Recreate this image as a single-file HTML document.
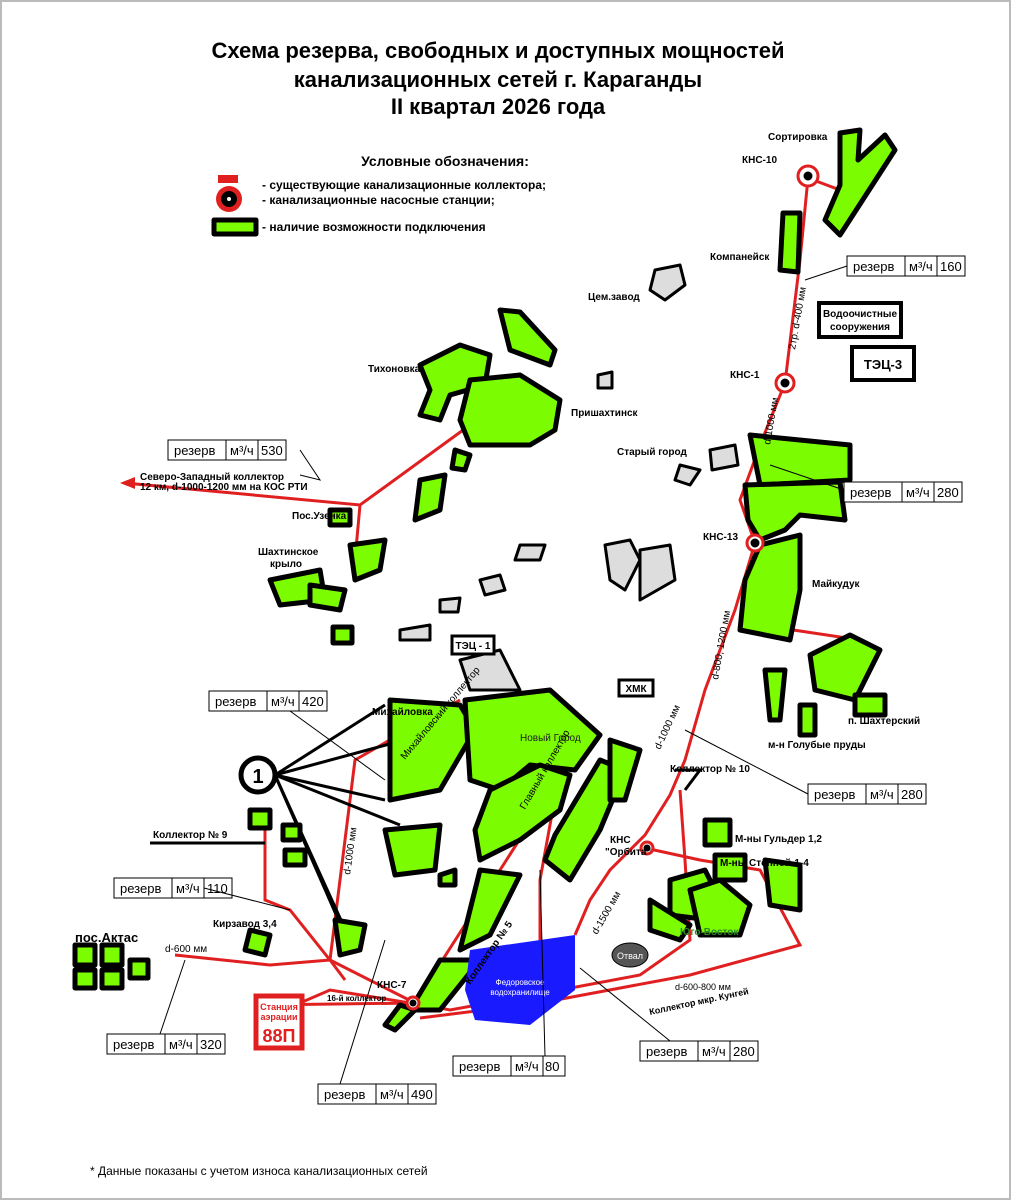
<!DOCTYPE html>
<html><head><meta charset="utf-8"><style>
body{margin:0;background:#fff}
svg{display:block;font-family:"Liberation Sans",sans-serif}
.g{fill:#7CFC00;stroke:#000;stroke-width:5;stroke-linejoin:round}
.gr{fill:#ddd;stroke:#000;stroke-width:3;stroke-linejoin:round}
.r{stroke:#e02020;stroke-width:3;fill:none}
.k{stroke:#000;stroke-width:3;fill:none}
.t{font-size:10px;font-weight:bold}
.bx rect{fill:#fff;stroke:#000;stroke-width:1}
.bx text{font-size:13px}
</style></head><body>
<svg width="1011" height="1200" viewBox="0 0 1011 1200">
<rect x="1" y="1" width="1009" height="1198" fill="#fff" stroke="#bbb" stroke-width="2"/>
<g font-weight="bold" font-size="22" text-anchor="middle">
<text x="498" y="58">Схема резерва, свободных и доступных мощностей</text>
<text x="498" y="87">канализационных сетей г. Караганды</text>
<text x="498" y="114">II квартал 2026 года</text>
</g>
<text x="445" y="166" font-size="14" font-weight="bold" text-anchor="middle">Условные обозначения:</text>
<rect x="218" y="175" width="20" height="8" fill="#e02020"/>
<circle cx="229" cy="199" r="13" fill="#e02020"/><circle cx="229" cy="199" r="8" fill="#000"/><circle cx="229" cy="199" r="2" fill="#fff"/>
<text x="262" y="189" font-size="12" font-weight="bold">- существующие канализационные коллектора;</text>
<text x="262" y="204" font-size="12" font-weight="bold">- канализационные насосные станции;</text>
<rect x="214" y="220" width="42" height="14" class="g" stroke-width="3"/>
<text x="262" y="231" font-size="12" font-weight="bold">- наличие возможности подключения</text>

<!-- red lines -->
<g class="r">
<polyline points="808,178 800,260 785,383 762,440 755,543 735,610 705,690 685,760 670,795 645,835 610,870 590,900 575,935"/>
<line x1="808" y1="178" x2="840" y2="190"/>
<polyline points="762,440 740,500 755,543"/>
<polyline points="760,625 860,640"/>
<polyline points="680,790 685,860 690,940 640,975 560,990 450,1010 415,1003 260,1005"/>
<polyline points="645,848 700,860 760,870 800,945 690,975 540,1003 420,1018"/>
<polyline points="415,1003 580,745"/>
<polyline points="415,1003 330,960 290,910 265,900 265,820"/>
<polyline points="330,960 355,760 460,700"/>
<polyline points="330,960 345,980"/>
<polyline points="175,955 270,965 330,960"/>
<polyline points="540,1003 540,880 560,770"/>
<polyline points="410,1003 330,990 300,1003"/>
<polyline points="125,483 360,505 470,425"/>
<polyline points="360,505 355,560"/>
</g>
<polygon points="120,483 135,477 135,489" fill="#e02020"/>
<text x="140" y="480" class="t" font-size="8">Северо-Западный коллектор</text>
<text x="140" y="490" class="t" font-size="8">12 км, d-1000-1200 мм на КОС РТИ</text>

<!-- black lines to circle 1 -->
<g class="k">
<line x1="275" y1="775" x2="385" y2="705"/><line x1="275" y1="775" x2="460" y2="725"/>
<line x1="275" y1="775" x2="385" y2="800"/><line x1="275" y1="775" x2="400" y2="825"/>
<line x1="275" y1="775" x2="345" y2="935"/><line x1="275" y1="775" x2="350" y2="940"/>
<polyline points="150,843 265,843"/>
<polyline points="675,770 700,770 685,790"/>
</g>
<circle cx="258" cy="775" r="17" fill="#fff" stroke="#000" stroke-width="5"/>
<text x="258" y="783" font-size="20" font-weight="bold" text-anchor="middle">1</text>

<!-- green areas -->
<g class="g">
<polygon points="840,133 860,130 858,160 885,135 895,150 840,235 825,220 840,185"/>
<polygon points="783,213 800,213 798,272 780,270"/>
<polygon points="500,310 520,312 555,350 550,365 510,350"/>
<polygon points="420,365 460,345 490,355 485,385 450,395 440,420 420,415 430,390"/>
<polygon points="470,380 520,375 560,400 555,430 530,445 470,445 460,420"/>
<polygon points="750,435 850,445 850,480 760,485"/>
<polygon points="745,485 840,482 845,520 800,515 785,530 760,540 748,520"/>
<polygon points="760,545 800,535 800,590 790,640 740,630 745,580"/>
<polygon points="810,655 850,635 880,650 855,700 815,690"/>
<polygon points="765,670 785,670 780,720 770,720"/>
<polygon points="800,705 815,705 815,735 800,735"/>
<polygon points="855,695 885,695 885,715 855,715"/>
<polygon points="390,700 460,705 475,730 440,790 390,800"/>
<polygon points="465,700 550,690 600,735 575,770 530,765 500,790 470,780"/>
<polygon points="490,790 540,765 570,775 560,810 520,840 480,860 475,830"/>
<polygon points="385,830 440,825 435,870 395,875"/>
<polygon points="440,875 455,870 455,885 440,885"/>
<polygon points="480,870 520,875 490,935 460,950"/>
<polygon points="440,960 480,960 440,1010 410,1010"/>
<polygon points="400,1005 415,1010 395,1030 385,1025"/>
<polygon points="555,835 600,760 625,770 600,830 570,880 545,860"/>
<polygon points="610,740 640,750 625,800 610,800"/>
<polygon points="670,880 705,870 720,900 710,920 670,915"/>
<polygon points="650,900 690,925 680,940 650,930"/>
<polygon points="705,820 730,820 730,845 705,845"/>
<polygon points="715,855 745,855 745,880 715,880"/>
<polygon points="690,890 720,880 750,905 740,935 700,935"/>
<polygon points="765,860 800,865 800,910 770,905"/>
<polygon points="335,920 365,925 360,950 340,955"/>
<polygon points="250,930 270,935 265,955 245,950"/>
<polygon points="250,810 270,810 270,828 250,828"/>
<polygon points="283,825 300,825 300,840 283,840"/>
<polygon points="285,850 305,850 305,865 285,865"/>
<polygon points="75,945 95,945 95,965 75,965"/>
<polygon points="102,945 122,945 122,965 102,965"/>
<polygon points="75,970 95,970 95,988 75,988"/>
<polygon points="102,970 122,970 122,988 102,988"/>
<polygon points="130,960 148,960 148,978 130,978"/>
<polygon points="330,510 350,510 350,525 330,525"/>
<polygon points="270,580 320,570 325,600 280,605"/>
<polygon points="350,545 385,540 380,570 355,580"/>
<polygon points="310,585 345,590 340,610 310,605"/>
<polygon points="333,627 352,627 352,643 333,643"/>
<polygon points="420,480 445,475 440,510 415,520"/>
<polygon points="455,450 470,455 465,470 452,468"/>
</g>
<g class="gr">
<polygon points="655,270 680,265 685,285 665,300 650,290"/>
<polygon points="598,375 612,372 612,388 598,388"/>
<polygon points="710,450 735,445 738,465 712,470"/>
<polygon points="680,465 700,470 690,485 675,480"/>
<polygon points="605,545 630,540 640,560 625,590 610,580"/>
<polygon points="640,550 670,545 675,580 640,600"/>
<polygon points="460,660 500,650 520,690 470,690"/>
<polygon points="480,580 500,575 505,590 485,595"/>
<polygon points="520,545 545,545 540,560 515,560"/>
<polygon points="400,630 430,625 430,640 400,640"/>
<polygon points="440,600 460,598 458,612 440,612"/>
</g>
<!-- lake -->
<polygon points="470,950 575,935 575,990 530,1025 475,1020 465,990" fill="#1a1aff"/>
<text x="520" y="985" font-size="8" fill="#fff" text-anchor="middle">Федоровское</text>
<text x="520" y="995" font-size="8" fill="#fff" text-anchor="middle">водохранилище</text>
<ellipse cx="630" cy="955" rx="18" ry="12" fill="#555" stroke="#000"/>
<text x="630" y="959" font-size="9" fill="#fff" text-anchor="middle">Отвал</text>

<!-- stations -->
<g stroke="#000">
<circle cx="808" cy="176" r="10" fill="#fff" stroke="#e02020" stroke-width="3"/><circle cx="808" cy="176" r="4" fill="#000"/>
<circle cx="785" cy="383" r="9" fill="#fff" stroke="#e02020" stroke-width="3"/><circle cx="785" cy="383" r="4" fill="#000"/>
<circle cx="755" cy="543" r="8" fill="#fff" stroke="#e02020" stroke-width="3"/><circle cx="755" cy="543" r="4" fill="#000"/>
<circle cx="647" cy="848" r="6" fill="#fff" stroke="#e02020" stroke-width="3"/><circle cx="647" cy="848" r="3" fill="#000"/>
<circle cx="413" cy="1003" r="6" fill="#fff" stroke="#e02020" stroke-width="3"/><circle cx="413" cy="1003" r="3" fill="#000"/>
</g>
<!-- buildings -->
<rect x="819" y="303" width="82" height="34" fill="#fff" stroke="#000" stroke-width="4"/>
<text x="860" y="317" class="t" text-anchor="middle">Водоочистные</text><text x="860" y="330" class="t" text-anchor="middle">сооружения</text>
<rect x="852" y="347" width="62" height="33" fill="#fff" stroke="#000" stroke-width="4"/>
<text x="883" y="369" font-size="13" font-weight="bold" text-anchor="middle">ТЭЦ-3</text>
<rect x="452" y="636" width="42" height="18" fill="#fff" stroke="#000" stroke-width="3"/>
<text x="473" y="649" class="t" text-anchor="middle">ТЭЦ - 1</text>
<rect x="619" y="680" width="34" height="16" fill="#fff" stroke="#000" stroke-width="3"/>
<text x="636" y="692" class="t" text-anchor="middle">ХМК</text>
<rect x="256" y="996" width="46" height="52" fill="#fff" stroke="#e02020" stroke-width="5"/>
<text x="279" y="1010" font-size="9" fill="#e02020" font-weight="bold" text-anchor="middle">Станция</text>
<text x="279" y="1020" font-size="9" fill="#e02020" font-weight="bold" text-anchor="middle">аэрации</text>
<text x="279" y="1042" font-size="18" fill="#e02020" font-weight="bold" text-anchor="middle">88П</text>

<!-- labels -->
<g class="t">
<text x="768" y="140">Сортировка</text>
<text x="742" y="163">КНС-10</text>
<text x="710" y="260">Компанейск</text>
<text x="588" y="300">Цем.завод</text>
<text x="368" y="372">Тихоновка</text>
<text x="571" y="416">Пришахтинск</text>
<text x="617" y="455">Старый город</text>
<text x="730" y="378">КНС-1</text>
<text x="703" y="540">КНС-13</text>
<text x="812" y="587">Майкудук</text>
<text x="848" y="724">п. Шахтерский</text>
<text x="768" y="748">м-н Голубые пруды</text>
<text x="292" y="519">Пос.Узенка</text>
<text x="258" y="555">Шахтинское</text>
<text x="270" y="567">крыло</text>
<text x="372" y="715">Михайловка</text>
<text x="520" y="741" font-weight="normal" fill="#222">Новый Город</text>
<text x="670" y="772">Коллектор № 10</text>
<text x="610" y="843">КНС</text><text x="605" y="855">"Орбита"</text>
<text x="735" y="842">М-ны Гульдер 1,2</text>
<text x="720" y="866">М-ны Степной-1-4</text>
<text x="680" y="935" fill="#2a8a2a">Юго-Восток</text>
<text x="153" y="838">Коллектор № 9</text>
<text x="213" y="927">Кирзавод 3,4</text>
<text x="75" y="942" font-size="13">пос.Актас</text>
<text x="165" y="952" font-weight="normal">d-600 мм</text>
<text x="377" y="988">КНС-7</text>
<text x="327" y="1001" font-size="8">16-й коллектор</text>
<text x="675" y="990" font-size="9" font-weight="normal">d-600-800 мм</text>
<text x="650" y="1015" font-size="9" transform="rotate(-12 650 1015)">Коллектор мкр. Кунгей</text>
<text x="795" y="350" transform="rotate(-80 795 350)" font-weight="normal">2тр. d-400 мм</text>
<text x="770" y="445" transform="rotate(-80 770 445)" font-weight="normal">d-1000 мм</text>
<text x="718" y="680" transform="rotate(-80 718 680)" font-weight="normal">d-800, 1200 мм</text>
<text x="660" y="750" transform="rotate(-65 660 750)" font-weight="normal">d-1000 мм</text>
<text x="597" y="935" transform="rotate(-60 597 935)" font-weight="normal">d-1500 мм</text>
<text x="350" y="875" transform="rotate(-82 350 875)" font-weight="normal">d-1000 мм</text>
<text x="470" y="985" transform="rotate(-55 470 985)">Коллектор № 5</text>
<text x="405" y="760" transform="rotate(-50 405 760)" font-weight="normal">Михайловский коллектор</text>
<text x="525" y="810" transform="rotate(-60 525 810)" font-weight="normal">Главный коллектор</text>
</g>

<!-- reserve boxes -->
<g class="bx">
<g transform="translate(847,256)"><rect width="58" height="20"/><rect x="58" width="32" height="20"/><rect x="90" width="28" height="20"/><text x="6" y="15">резерв</text><text x="62" y="15">м³/ч</text><text x="93" y="15">160</text></g>
<g transform="translate(168,440)"><rect width="58" height="20"/><rect x="58" width="32" height="20"/><rect x="90" width="28" height="20"/><text x="6" y="15">резерв</text><text x="62" y="15">м³/ч</text><text x="93" y="15">530</text></g>
<g transform="translate(844,482)"><rect width="58" height="20"/><rect x="58" width="32" height="20"/><rect x="90" width="28" height="20"/><text x="6" y="15">резерв</text><text x="62" y="15">м³/ч</text><text x="93" y="15">280</text></g>
<g transform="translate(209,691)"><rect width="58" height="20"/><rect x="58" width="32" height="20"/><rect x="90" width="28" height="20"/><text x="6" y="15">резерв</text><text x="62" y="15">м³/ч</text><text x="93" y="15">420</text></g>
<g transform="translate(808,784)"><rect width="58" height="20"/><rect x="58" width="32" height="20"/><rect x="90" width="28" height="20"/><text x="6" y="15">резерв</text><text x="62" y="15">м³/ч</text><text x="93" y="15">280</text></g>
<g transform="translate(114,878)"><rect width="58" height="20"/><rect x="58" width="32" height="20"/><rect x="90" width="28" height="20"/><text x="6" y="15">резерв</text><text x="62" y="15">м³/ч</text><text x="93" y="15">110</text></g>
<g transform="translate(107,1034)"><rect width="58" height="20"/><rect x="58" width="32" height="20"/><rect x="90" width="28" height="20"/><text x="6" y="15">резерв</text><text x="62" y="15">м³/ч</text><text x="93" y="15">320</text></g>
<g transform="translate(453,1056)"><rect width="58" height="20"/><rect x="58" width="32" height="20"/><rect x="90" width="22" height="20"/><text x="6" y="15">резерв</text><text x="62" y="15">м³/ч</text><text x="92" y="15">80</text></g>
<g transform="translate(640,1041)"><rect width="58" height="20"/><rect x="58" width="32" height="20"/><rect x="90" width="28" height="20"/><text x="6" y="15">резерв</text><text x="62" y="15">м³/ч</text><text x="93" y="15">280</text></g>
<g transform="translate(318,1084)"><rect width="58" height="20"/><rect x="58" width="32" height="20"/><rect x="90" width="28" height="20"/><text x="6" y="15">резерв</text><text x="62" y="15">м³/ч</text><text x="93" y="15">490</text></g>
</g>
<g stroke="#000" stroke-width="1" fill="none">
<line x1="847" y1="266" x2="805" y2="280"/>
<polyline points="300,450 320,480 300,475"/>
<line x1="844" y1="490" x2="770" y2="465"/>
<line x1="290" y1="711" x2="385" y2="780"/>
<line x1="808" y1="794" x2="685" y2="730"/>
<line x1="204" y1="888" x2="290" y2="910"/>
<line x1="160" y1="1034" x2="185" y2="960"/>
<line x1="545" y1="1056" x2="540" y2="870"/>
<line x1="670" y1="1041" x2="580" y2="968"/>
<line x1="340" y1="1084" x2="385" y2="940"/>
</g>
<text x="90" y="1175" font-size="12">* Данные показаны с учетом износа канализационных сетей</text>
</svg>
</body></html>
